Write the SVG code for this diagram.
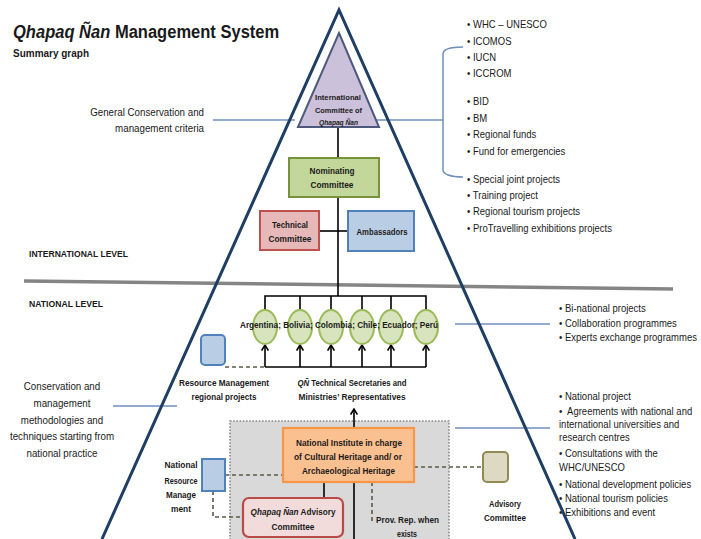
<svg xmlns="http://www.w3.org/2000/svg" width="701" height="539" viewBox="0 0 701 539">
  <defs>
    <style>
      text { font-family: "Liberation Sans", Arial, sans-serif; fill: #1a1a1a; }
      .b { font-weight: bold; }
      .i { font-style: italic; }
      .list { font-size: 10px; }
      .note { font-size: 10.5px; }
      .lbl { font-size: 9.5px; font-weight: bold; }
      .small { font-size: 8px; font-weight: bold; }
      .mid { text-anchor: middle; }
      .end { text-anchor: end; }
      .wire { stroke: #000; stroke-width: 1.6; fill: none; }
      .dash { stroke: #5a5a48; stroke-width: 1.6; fill: none; stroke-dasharray: 4 3; }
      .pointer { stroke: #6f8fbf; stroke-width: 1.5; fill: none; }
    </style>
    <marker id="chev" viewBox="0 0 8 8" refX="6.5" refY="4" markerWidth="8" markerHeight="8" markerUnits="userSpaceOnUse" orient="auto">
      <path d="M1,0.6 L6.5,4 L1,7.4" fill="none" stroke="#000" stroke-width="1.6"/>
    </marker>
  </defs>

  <rect width="701" height="539" fill="#ffffff"/>

  <!-- Heading -->
  <text transform="translate(13,38) scale(0.87,1)" class="b" font-size="19"><tspan class="i">Qhapaq Ñan</tspan> Management System</text>
  <text x="13" y="57" class="b" font-size="11" textLength="76" lengthAdjust="spacingAndGlyphs">Summary graph</text>

  <!-- National scope panel (dotted grey area) -->
  <rect x="230" y="421" width="219" height="130" fill="#d9d9d9" stroke="#8a8a8a" stroke-width="1.6" stroke-dasharray="1.6 1.6"/>

  <!-- Level divider -->
  <line x1="24" y1="281" x2="673" y2="289" stroke="#858585" stroke-width="3.5"/>
  <text x="29" y="257" class="lbl" textLength="99" lengthAdjust="spacingAndGlyphs">INTERNATIONAL LEVEL</text>
  <text x="29" y="307" class="lbl" textLength="74" lengthAdjust="spacingAndGlyphs">NATIONAL LEVEL</text>

  <!-- Side notes and lists -->
  <g id="note-general" class="note" transform="translate(204,0) scale(0.93,1)">
    <text x="0" y="116" class="end">General Conservation and</text>
    <text x="0" y="132" class="end">management criteria</text>
  </g>
  <g id="note-methods" class="note" transform="translate(62,0) scale(0.93,1)">
    <text x="0" y="390" class="mid">Conservation and</text>
    <text x="0" y="407" class="mid">management</text>
    <text x="0" y="424" class="mid">methodologies and</text>
    <text x="0" y="440" class="mid">techniques starting from</text>
    <text x="0" y="457" class="mid">national practice</text>
  </g>
  <g id="list-international" class="list" transform="translate(467,0) scale(0.95,1)">
    <text x="0" y="28">• WHC – UNESCO</text>
    <text x="0" y="45.5">• ICOMOS</text>
    <text x="0" y="61">• IUCN</text>
    <text x="0" y="77">• ICCROM</text>
    <text x="0" y="105.5">• BID</text>
    <text x="0" y="122">• BM</text>
    <text x="0" y="138.5">• Regional funds</text>
    <text x="0" y="155.5">• Fund for emergencies</text>
    <text x="0" y="183.5">• Special joint projects</text>
    <text x="0" y="199.5">• Training project</text>
    <text x="0" y="215.5">• Regional tourism projects</text>
    <text x="0" y="232.5">• ProTravelling exhibitions projects</text>
  </g>
  <g id="list-binational" class="list" transform="translate(559,0) scale(0.95,1)">
    <text x="0" y="312.5">• Bi-national projects</text>
    <text x="0" y="327.5">• Collaboration programmes</text>
    <text x="0" y="341.5">• Experts exchange programmes</text>
  </g>
  <g id="list-national" class="list" transform="translate(559,0) scale(0.95,1)">
    <text x="0" y="400.5">• National project</text>
    <text x="0" y="415.5">•&#160; Agreements with national and</text>
    <text x="0" y="428.5">international universities and</text>
    <text x="0" y="441.5">research centres</text>
    <text x="0" y="457.5">• Consultations with the</text>
    <text x="0" y="471.5">WHC/UNESCO</text>
    <text x="0" y="488.5">• National development policies</text>
    <text x="0" y="502.5">• National tourism policies</text>
    <text x="0" y="516.5">• Exhibitions and event</text>
  </g>

  <!-- Connectors -->
  <g id="connectors">
    <!-- pointer lines from the notes -->
    <line class="pointer" x1="213" y1="120" x2="295" y2="120"/>
    <line class="pointer" x1="367" y1="120" x2="443" y2="120"/>
    <path class="pointer" d="M463,47 C450,47 443,49 443,54 L443,170 C443,174 450,177 463,177"/>
    <line class="pointer" x1="113" y1="406" x2="177" y2="406"/>
    <line class="pointer" x1="455" y1="324" x2="550" y2="324"/>
    <line class="pointer" x1="455" y1="428" x2="550" y2="428"/>

    <!-- international chain -->
    <line class="wire" x1="338" y1="127" x2="338" y2="158"/>
    <line class="wire" x1="338" y1="197" x2="338" y2="296"/>
    <line class="wire" x1="319" y1="231" x2="348" y2="231"/>

    <!-- upper bus to the countries -->
    <path class="wire" d="M265,310 V296 H426 V310 M300,296 V310 M331,296 V310 M362,296 V310 M391,296 V310"/>

    <!-- lower bus with arrows into the countries -->
    <line class="wire" x1="265" y1="367" x2="426" y2="367"/>
    <line class="wire" x1="265" y1="367" x2="265" y2="345" marker-end="url(#chev)"/>
    <line class="wire" x1="300" y1="367" x2="300" y2="345" marker-end="url(#chev)"/>
    <line class="wire" x1="331" y1="367" x2="331" y2="345" marker-end="url(#chev)"/>
    <line class="wire" x1="362" y1="367" x2="362" y2="345" marker-end="url(#chev)"/>
    <line class="wire" x1="391" y1="367" x2="391" y2="345" marker-end="url(#chev)"/>
    <line class="wire" x1="426" y1="367" x2="426" y2="345" marker-end="url(#chev)"/>

    <!-- national institute links -->
    <line class="wire" x1="354" y1="428" x2="354" y2="409" marker-end="url(#chev)"/>
    <line class="wire" x1="354" y1="482" x2="354" y2="545"/>
    <line class="wire" x1="324" y1="482" x2="324" y2="498"/>

    <!-- dashed relations -->
    <line class="dash" x1="225" y1="367" x2="265" y2="367"/>
    <line class="dash" x1="225" y1="475" x2="283" y2="475"/>
    <path class="dash" d="M213,491 V517 H243"/>
    <line class="dash" x1="414" y1="467" x2="483" y2="467"/>
    <line class="dash" x1="372" y1="482" x2="372" y2="524"/>
  </g>

  <!-- International committee (inner triangle) -->
  <g id="international-committee">
    <polygon points="339,33 379,127 298,127" fill="#ccc1da" stroke="#4d5a7c" stroke-width="2"/>
    <text x="338" y="100" class="small mid" textLength="46" lengthAdjust="spacingAndGlyphs">International</text>
    <text x="338.5" y="113" class="small mid" textLength="47" lengthAdjust="spacingAndGlyphs">Committee of</text>
    <text x="338.5" y="124.5" class="small mid i" textLength="39" lengthAdjust="spacingAndGlyphs">Qhapaq Ñan</text>
  </g>

  <g id="nominating-committee">
    <rect x="289" y="158" width="90" height="39" fill="#c4d79b" stroke="#76923c" stroke-width="2"/>
    <text x="332" y="174" class="lbl mid" textLength="45" lengthAdjust="spacingAndGlyphs">Nominating</text>
    <text x="332" y="188" class="lbl mid" textLength="43" lengthAdjust="spacingAndGlyphs">Committee</text>
  </g>

  <g id="technical-committee">
    <rect x="260" y="211" width="59" height="39" fill="#e6b9b8" stroke="#c0504d" stroke-width="2"/>
    <text x="290" y="228" class="lbl mid" textLength="36" lengthAdjust="spacingAndGlyphs">Technical</text>
    <text x="290" y="242" class="lbl mid" textLength="43" lengthAdjust="spacingAndGlyphs">Committee</text>
  </g>

  <g id="ambassadors">
    <rect x="348" y="211" width="66" height="40" fill="#b9cde5" stroke="#4f81bd" stroke-width="2"/>
    <text x="382" y="234.5" class="lbl mid" textLength="51" lengthAdjust="spacingAndGlyphs">Ambassadors</text>
  </g>

  <g id="countries">
    <g fill="#d7e4bd" stroke="#9bbb59" stroke-width="2">
      <ellipse cx="265" cy="327" rx="12" ry="17"/>
      <ellipse cx="300" cy="327" rx="12" ry="17"/>
      <ellipse cx="331" cy="327" rx="12" ry="17"/>
      <ellipse cx="362" cy="327" rx="12" ry="17"/>
      <ellipse cx="391" cy="327" rx="12" ry="17"/>
      <ellipse cx="426" cy="327" rx="12" ry="17"/>
    </g>
    <text x="240" y="328" class="lbl" font-size="9" textLength="198" lengthAdjust="spacingAndGlyphs">Argentina; Bolivia; Colombia; Chile; Ecuador; Perú</text>
  </g>

  <g id="regional-projects">
    <rect x="201" y="335" width="24" height="30" rx="4" fill="#b9cde5" stroke="#4f81bd" stroke-width="2"/>
    <text x="224" y="386" class="lbl mid" textLength="90" lengthAdjust="spacingAndGlyphs">Resource Management</text>
    <text x="224" y="400" class="lbl mid" textLength="65" lengthAdjust="spacingAndGlyphs">regional projects</text>
  </g>

  <g id="technical-secretaries">
    <text transform="translate(352,386) scale(0.82,1)" class="lbl mid"><tspan class="i">QÑ</tspan> Technical Secretaries and</text>
    <text x="352" y="400" class="lbl mid" textLength="107" lengthAdjust="spacingAndGlyphs">Ministries’ Representatives</text>
  </g>

  <g id="national-institute">
    <rect x="283" y="428" width="131" height="54" fill="#fac090" stroke="#f79646" stroke-width="2.2"/>
    <text x="349" y="446" class="lbl mid" textLength="106" lengthAdjust="spacingAndGlyphs">National Institute in charge</text>
    <text x="348" y="459.5" class="lbl mid" textLength="108" lengthAdjust="spacingAndGlyphs">of Cultural Heritage and/ or</text>
    <text x="348.5" y="473.5" class="lbl mid" textLength="93" lengthAdjust="spacingAndGlyphs">Archaeological Heritage</text>
  </g>

  <g id="national-resource-management">
    <rect x="202" y="459" width="23" height="32" fill="#b9cde5" stroke="#4f81bd" stroke-width="2"/>
    <text x="181" y="467.5" class="lbl mid" textLength="33" lengthAdjust="spacingAndGlyphs">National</text>
    <text x="181" y="483.5" class="lbl mid" textLength="33" lengthAdjust="spacingAndGlyphs">Resource</text>
    <text x="181" y="497.5" class="lbl mid" textLength="30" lengthAdjust="spacingAndGlyphs">Manage</text>
    <text x="181" y="511.5" class="lbl mid" textLength="20" lengthAdjust="spacingAndGlyphs">ment</text>
  </g>

  <g id="qn-advisory-committee">
    <rect x="243" y="498" width="100" height="39" rx="6" fill="#f2dcdb" stroke="#b84a48" stroke-width="2.2"/>
    <text transform="translate(293,514.5) scale(0.86,1)" class="lbl mid"><tspan class="i">Qhapaq Ñan</tspan> Advisory</text>
    <text x="293" y="529.5" class="lbl mid" textLength="43" lengthAdjust="spacingAndGlyphs">Committee</text>
  </g>

  <g id="provincial-representative">
    <text x="376" y="522.5" class="lbl" textLength="63" lengthAdjust="spacingAndGlyphs">Prov. Rep. when</text>
    <text x="407" y="536.5" class="lbl mid" textLength="20" lengthAdjust="spacingAndGlyphs">exists</text>
  </g>

  <g id="advisory-committee">
    <rect x="483" y="452" width="25" height="30" rx="4" fill="#ddd9c3" stroke="#938953" stroke-width="2"/>
    <text x="505" y="506.5" class="lbl mid" textLength="32" lengthAdjust="spacingAndGlyphs">Advisory</text>
    <text x="505" y="520.5" class="lbl mid" textLength="42" lengthAdjust="spacingAndGlyphs">Committee</text>
  </g>

  <!-- Outer pyramid -->
  <polyline points="102,539 339,10 575,539" fill="none" stroke="#1f3e64" stroke-width="3" stroke-linejoin="miter"/>
</svg>
